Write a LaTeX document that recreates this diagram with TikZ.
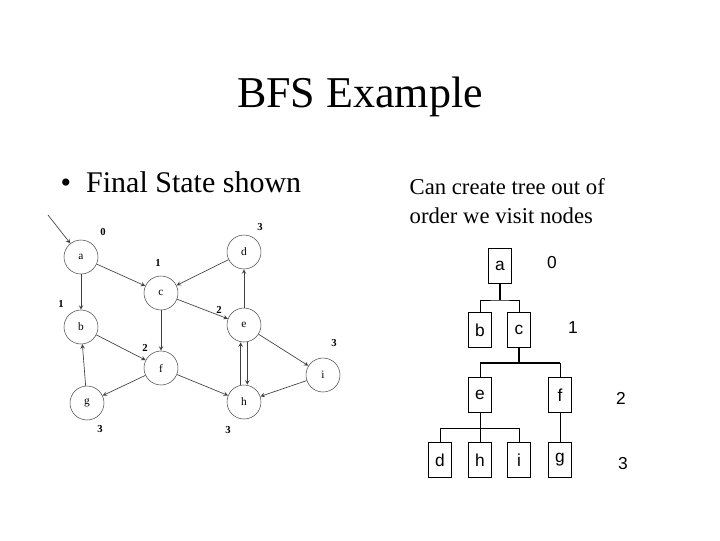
\documentclass[tikz,border=0pt]{standalone}
\usepackage{fontspec}
\setmainfont{Liberation Serif}
\newfontfamily\arialf{Liberation Sans}
\begin{document}
\begin{tikzpicture}[x=0.75pt,y=-0.75pt,
 gn/.style={circle,draw=black!70,minimum size=25.5pt,inner sep=0pt,font=\fontsize{8.5}{9}\selectfont},
 gl/.style={font=\fontsize{8}{9}\selectfont\bfseries},
 ga/.style={->,>=stealth,draw=black!75,line width=0.5pt},
 tb/.style={draw,line width=1pt,minimum width=17pt,minimum height=26pt,inner sep=0pt,font=\arialf\fontsize{13}{15}\selectfont},
 tl/.style={font=\arialf\fontsize{13}{15}\selectfont},
 tk/.style={line width=1.4pt},
 tn/.style={line width=0.6pt}]
\useasboundingbox (0,0) rectangle (720,540);
\node[font=\fontsize{33}{36}\selectfont] (title) at (360,97) {BFS Example};
\node[anchor=west,font=\fontsize{22.5}{26}\selectfont] (bul) at (56,182) {\textbullet\ \ Final State shown};
\node[anchor=west,align=left,font=\fontsize{17}{22}\selectfont] (txt) at (405,201) {Can create tree out of\\order we visit nodes};
% graph
\node[gn] (a) at (81,257) {a};
\node[gn] (c) at (161,293) {c};
\node[gn] (d) at (244,252) {d};
\node[gn] (b) at (81,327) {b};
\node[gn] (e) at (244,325) {e};
\node[gn] (f) at (161,368) {f};
\node[gn] (i) at (323,375) {i};
\node[gn] (g) at (87,403) {g};
\node[gn] (h) at (244,402) {h};
\coordinate (start) at (48,215);
\draw[ga] (start) -- (a);
\draw[ga] (a) -- (b);
\draw[ga] (a) -- (c);
\draw[ga] (d) -- (c);
\draw[ga] (c) -- (e);
\draw[ga] (c) -- (f);
\draw[ga] (e) -- (d);
\draw[ga] ([xshift=2.5pt]e.south) -- ([xshift=2.5pt]h.north);
\draw[ga] ([xshift=-2.5pt]h.north) -- ([xshift=-2.5pt]e.south);
\draw[ga] (e) -- (i);
\draw[ga] (b) -- (f);
\draw[ga] (f) -- (g);
\draw[ga] (g) -- (b);
\draw[ga] (f) -- (h);
\draw[ga] (i) -- (h);
\node[gl] (l0) at (103,232) {0};
\node[gl] (l1c) at (158,263) {1};
\node[gl] (l3d) at (260,227) {3};
\node[gl] (l1b) at (61,304) {1};
\node[gl] (l2e) at (219,310) {2};
\node[gl] (l2f) at (145,348) {2};
\node[gl] (l3i) at (334,343) {3};
\node[gl] (l3g) at (100,429) {3};
\node[gl] (l3h) at (228,430) {3};
% tree
\node[tb] (ta) at (500,266) {a};
\node[tb] (tbb) at (480,330) {b};
\node[tb] (tc) at (519,330) {c};
\node[tb] (te) at (480,395) {e};
\node[tb] (tf) at (560,395) {f};
\node[tb] (td) at (440,460) {d};
\node[tb] (th) at (480,460) {h};
\node[tb] (ti) at (519,460) {i};
\node[tb] (tg) at (560,460) {g};
\draw[tk] (ta.south) -- (500,300);
\draw[tn] (tbb.north) |- (500,300) -| (tc.north);
\draw[tk] (tc.south) -- (519,363);
\draw[tk] (480,363) -- (560,363);
\draw[tn] (te.north) |- (480,363);
\draw[tn] (tf.north) |- (560,363);
\draw[tn] (te.south) -- (th.north);
\draw[tn] (td.north) |- (519,428) -- (ti.north);
\draw[tn] (tf.south) -- (tg.north);
\node[tl] (n0) at (552,263) {0};
\node[tl] (n1) at (573,328) {1};
\node[tl] (n2) at (621,398) {2};
\node[tl] (n3) at (623,464) {3};
\end{tikzpicture}
\end{document}
